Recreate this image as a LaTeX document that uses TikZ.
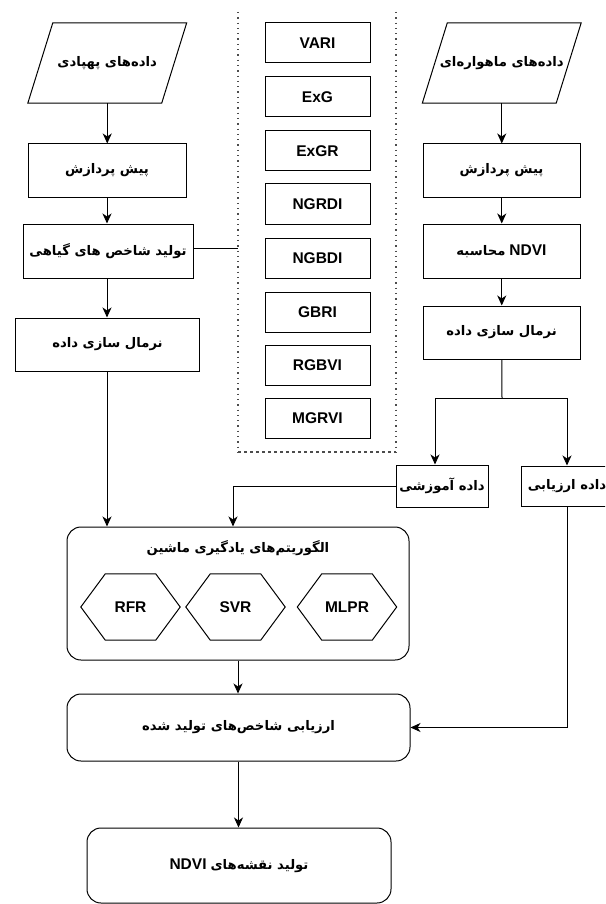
\documentclass[tikz,border=0pt]{standalone}
\usepackage{fontspec}
\setmainfont{Liberation Sans}
\newfontfamily\fa[Script=Arabic]{DejaVu Sans}
\TeXXeTstate=1
\usetikzlibrary{arrows.meta}
\newcommand\fatext[1]{{\fa\bfseries\fontsize{13.2}{15}\selectfont\beginR #1\endR}}
\newcommand\lat[1]{{\bfseries\fontsize{15.5}{18}\selectfont #1}}
\tikzset{
  line/.style={line width=1pt, draw=black},
  box/.style={line, rectangle, inner sep=0pt, align=center, minimum height=53pt},
  rbox/.style={box, rounded corners=14pt},
  ibox/.style={box, minimum width=105pt, minimum height=40pt, font=\bfseries\fontsize{15.5}{18}\selectfont},
  shapebox/.style={rectangle, inner sep=0pt, align=center},
  arr/.style={line, -{Stealth[length=10pt,width=9pt,inset=3pt]}},
  dotline/.style={line width=1.3pt, dash pattern=on 1.3pt off 4pt, draw=black!70},
  dashline/.style={line width=1.1pt, dash pattern=on 3pt off 3pt, draw=black!70}
}
\newcommand\drawhex[1]{\draw[line] (#1.west) -- ([xshift=24.5pt]#1.north west) -- ([xshift=-24.5pt]#1.north east) -- (#1.east) -- ([xshift=-24.5pt]#1.south east) -- ([xshift=24.5pt]#1.south west) -- cycle;}
\newcommand\drawpara[1]{\draw[line] ([xshift=-12.5pt]#1.south west) -- ([xshift=12.5pt]#1.north west) -- ([xshift=12.5pt]#1.north east) -- ([xshift=-12.5pt]#1.south east) -- cycle;}
\begin{document}
\begin{tikzpicture}[x=1pt,y=-1pt]
\useasboundingbox (0,0) rectangle (605,904);
\clip (0,0) rectangle (605,904);
\fill[white] (0,0) rectangle (605,904);

% left column
\node[shapebox, minimum width=133.5pt, minimum height=80pt] (uav) at (107.25,63) {\fatext{داده‌های پهپادی}};
\drawpara{uav}
\node[box, minimum width=158pt] (pre1) at (107,170.5) {\fatext{پیش پردازش}};
\node[box, minimum width=170pt, minimum height=54pt] (gen) at (108,251) {\fatext{تولید شاخص های گیاهی}};
\node[box, minimum width=184pt] (norm1) at (107.5,344.5) {\fatext{نرمال سازی داده}};

% indices
\node[ibox] (i1) at (317.5,43) {VARI};
\node[ibox] (i2) at (317.5,97) {ExG};
\node[ibox] (i3) at (317.5,151) {ExGR};
\node[ibox] (i4) at (317.5,204) {NGRDI};
\node[ibox] (i5) at (317.5,258) {NGBDI};
\node[ibox] (i6) at (317.5,312) {GBRI};
\node[ibox] (i7) at (317.5,365) {RGBVI};
\node[ibox] (i8) at (317.5,418) {MGRVI};
\coordinate (gtl) at (238,12);
\coordinate (gbl) at (238,452);
\coordinate (gtr) at (396,12);
\coordinate (gbr) at (396,452);
\draw[dotline] (gtl) -- (gbl);
\draw[dotline] (gtr) -- (gbr);
\draw[dashline] (gbl) -- (gbr);

% right column
\node[shapebox, minimum width=133.5pt, minimum height=80pt] (sat) at (501.75,63) {\fatext{داده‌های ماهواره‌ای}};
\drawpara{sat}
\node[box, minimum width=157pt] (pre2) at (501.5,170.5) {\fatext{پیش پردازش}};
\node[box, minimum width=157pt, minimum height=54pt] (ndvi) at (501.5,251) {\fatext{محاسبه}\kern4pt\lat{NDVI}};
\node[box, minimum width=157pt] (norm2) at (501.5,332.5) {\fatext{نرمال سازی داده}};
\node[box, minimum width=92pt, minimum height=42pt] (train) at (442,486) {\fatext{داده آموزشی}};
\node[box, minimum width=92pt, minimum height=40pt] (evald) at (567,486) {\fatext{داده ارزیابی}};

% ML box
\node[rbox, minimum width=342pt, minimum height=133pt] (ml) at (238,593.5) {};
\node[shapebox] (mlt) at (238,548) {\fatext{الگوریتم‌های یادگیری ماشین}};
\node[shapebox, minimum width=99pt, minimum height=66pt, font=\bfseries\fontsize{15.5}{18}\selectfont] (h1) at (130.5,607) {RFR};
\node[shapebox, minimum width=99pt, minimum height=66pt, font=\bfseries\fontsize{15.5}{18}\selectfont] (h2) at (235.5,607) {SVR};
\node[shapebox, minimum width=99pt, minimum height=66pt, font=\bfseries\fontsize{15.5}{18}\selectfont] (h3) at (347,607) {MLPR};
\drawhex{h1}
\drawhex{h2}
\drawhex{h3}

\node[rbox, minimum width=343pt, minimum height=67pt] (eval) at (238.5,727.5) {\fatext{ارزیابی شاخص‌های تولید شده}};
\node[rbox, minimum width=304pt, minimum height=75pt] (final) at (239,865.5) {\lat{NDVI}\kern4pt\fatext{تولید نقشه‌های}};

% connectors
\draw[arr] (uav.south) -- (uav.south |- pre1.north);
\draw[arr] (pre1) -- (pre1 |- gen.north);
\draw[arr] (pre1 |- gen.south) -- (pre1 |- norm1.north);
\draw[arr] (pre1 |- norm1.south) -- (pre1 |- ml.north);
\coordinate (dl) at (238,248);
\draw[line] (gen.east |- dl) -- (dl);

\draw[arr] (sat.south) -- (sat.south |- pre2.north);
\draw[arr] (sat.south |- pre2.south) -- (sat.south |- ndvi.north);
\draw[arr] (sat.south |- ndvi.south) -- (sat.south |- norm2.north);
\coordinate (split) at (502,398);
\coordinate (tl) at (435,398);
\coordinate (tr) at (567,398);
\draw[line] (sat.south |- norm2.south) -- (split);
\draw[line] (tl) -- (tr);
\draw[arr] (tl) -- (tl |- train.north);
\draw[arr] (tr) -- (evald.north);
\draw[arr] (train.west) -| ([xshift=-5pt]ml.north);
\draw[arr] (ml.south) -- (ml.south |- eval.north);
\draw[arr] (evald.south) |- (eval.east);
\draw[arr] (eval.south) -- (eval.south |- final.north);
\end{tikzpicture}
\end{document}
